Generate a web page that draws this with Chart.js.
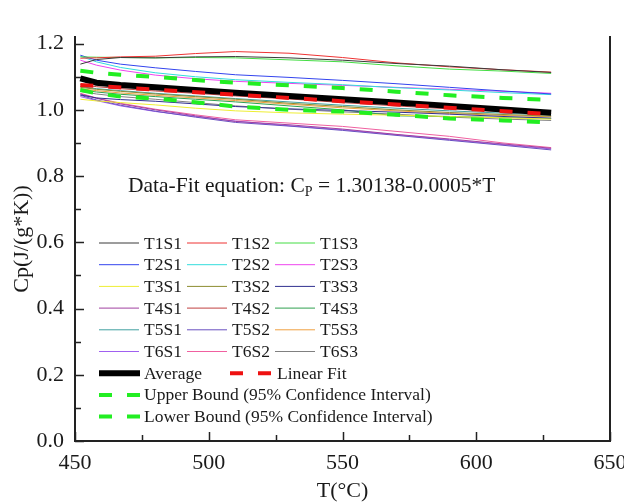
<!DOCTYPE html>
<html>
<head>
<meta charset="utf-8">
<script src="https://cdn.jsdelivr.net/npm/chart.js@4.4.1/dist/chart.umd.min.js"></script>
<style>
  html, body { margin: 0; padding: 0; background: #fff; }
  #wrap { width: 624px; height: 504px; }
</style>
</head>
<body>
<div id="wrap"><canvas id="cpChart" width="624" height="504"></canvas></div>
<script>
// temperature grid (°C) shared by the sample curves and summary curves
const tempC = [452, 458, 467, 480, 495, 510, 530, 550, 570, 590, 610, 628];

// Cp (J/(g*K)) per sample
const cpT1S1 = [1.138, 1.152, 1.158, 1.157, 1.160, 1.161, 1.157, 1.150, 1.140, 1.132, 1.121, 1.113];
const cpT1S2 = [1.156, 1.157, 1.160, 1.162, 1.170, 1.176, 1.171, 1.158, 1.142, 1.130, 1.121, 1.114];
const cpT1S3 = [1.160, 1.159, 1.158, 1.157, 1.158, 1.157, 1.151, 1.145, 1.133, 1.123, 1.117, 1.110];
const cpT2S1 = [1.165, 1.150, 1.138, 1.127, 1.116, 1.106, 1.098, 1.089, 1.079, 1.068, 1.057, 1.048];
const cpT2S2 = [1.162, 1.145, 1.128, 1.112, 1.100, 1.091, 1.083, 1.076, 1.067, 1.060, 1.052, 1.046];
const cpT2S3 = [1.150, 1.135, 1.120, 1.105, 1.094, 1.086, 1.080, 1.074, 1.068, 1.062, 1.056, 1.050];
const cpT3S1 = [1.032, 1.027, 1.022, 1.015, 1.005, 0.997, 0.991, 0.987, 0.984, 0.980, 0.976, 0.972];
const cpT3S2 = [1.068, 1.062, 1.056, 1.048, 1.040, 1.032, 1.020, 1.010, 1.000, 0.992, 0.986, 0.981];
const cpT3S3 = [1.045, 1.036, 1.031, 1.026, 1.018, 1.010, 1.003, 0.998, 0.993, 0.987, 0.980, 0.975];
const cpT4S1 = [1.048, 1.035, 1.018, 1.000, 0.982, 0.965, 0.955, 0.942, 0.926, 0.912, 0.897, 0.884];
const cpT4S2 = [1.076, 1.070, 1.064, 1.057, 1.050, 1.042, 1.033, 1.022, 1.012, 1.003, 0.995, 0.989];
const cpT4S3 = [1.060, 1.054, 1.047, 1.040, 1.032, 1.024, 1.012, 1.000, 0.982, 0.980, 0.977, 0.974];
const cpT5S1 = [1.070, 1.064, 1.058, 1.050, 1.042, 1.034, 1.024, 1.014, 1.005, 0.997, 0.990, 0.984];
const cpT5S2 = [1.044, 1.030, 1.014, 0.996, 0.978, 0.962, 0.951, 0.938, 0.923, 0.908, 0.893, 0.879];
const cpT5S3 = [1.064, 1.058, 1.051, 1.044, 1.036, 1.028, 1.017, 1.006, 0.997, 0.989, 0.983, 0.979];
const cpT6S1 = [1.040, 1.028, 1.012, 0.995, 0.980, 0.966, 0.952, 0.940, 0.925, 0.910, 0.895, 0.882];
const cpT6S2 = [1.050, 1.036, 1.020, 1.002, 0.985, 0.970, 0.960, 0.950, 0.935, 0.920, 0.900, 0.886];
const cpT6S3 = [1.056, 1.048, 1.040, 1.032, 1.022, 1.012, 1.002, 0.994, 0.987, 0.978, 0.972, 0.968];

// summary curves
const cpAverage = [1.095, 1.082, 1.075, 1.068, 1.060, 1.052, 1.042, 1.032, 1.022, 1.012, 1.001, 0.991];
const cpUpper   = [1.118, 1.112, 1.106, 1.100, 1.090, 1.082, 1.074, 1.066, 1.055, 1.044, 1.036, 1.030];
const cpLower   = [1.060, 1.050, 1.040, 1.034, 1.023, 1.010, 1.000, 0.995, 0.985, 0.974, 0.968, 0.962];
const fitT  = [452, 628];
const fitCp = [1.075, 0.987];

const sampleNames = ['T1S1', 'T1S2', 'T1S3', 'T2S1', 'T2S2', 'T2S3', 'T3S1', 'T3S2', 'T3S3',
                     'T4S1', 'T4S2', 'T4S3', 'T5S1', 'T5S2', 'T5S3', 'T6S1', 'T6S2', 'T6S3'];
const sampleCp = [cpT1S1, cpT1S2, cpT1S3, cpT2S1, cpT2S2, cpT2S3, cpT3S1, cpT3S2, cpT3S3,
                  cpT4S1, cpT4S2, cpT4S3, cpT5S1, cpT5S2, cpT5S3, cpT6S1, cpT6S2, cpT6S3];
const sampleColors = ['#3a3a3a', '#ee3333', '#44dd44', '#3344ee', '#33dddd', '#ee44ee',
                      '#eeee33', '#8c8c30', '#303090', '#a040a0', '#c04040', '#30a050',
                      '#40a0a0', '#6a50c0', '#f0a040', '#a060f0', '#f060a0', '#808080'];

const xTicks = [450, 500, 550, 600, 650];
const yTicks = [0.0, 0.2, 0.4, 0.6, 0.8, 1.0, 1.2];

const serif = '"Liberation Serif", "DejaVu Serif", serif';

function toPoints(xs, ys) {
    return xs.map((x, i) => ({ x: x, y: ys[i] }));
}

const datasets = sampleNames.map((name, i) => ({
    label: name,
    data: toPoints(tempC, sampleCp[i]),
    borderColor: sampleColors[i],
    borderWidth: 1,
    order: 10
}));

datasets.push({
    label: 'Average',
    data: toPoints(tempC, cpAverage),
    borderColor: '#000000',
    borderWidth: 6,
    order: 3
});
datasets.push({
    label: 'Linear Fit',
    data: toPoints(fitT, fitCp),
    borderColor: '#ee1111',
    borderWidth: 4,
    borderDash: [13, 15],
    order: 1
});
datasets.push({
    label: 'Upper Bound (95% Confidence Interval)',
    data: toPoints(tempC, cpUpper),
    borderColor: '#22ee22',
    borderWidth: 4,
    borderDash: [13, 15],
    order: 2
});
datasets.push({
    label: 'Lower Bound (95% Confidence Interval)',
    data: toPoints(tempC, cpLower),
    borderColor: '#22ee22',
    borderWidth: 4,
    borderDash: [13, 15],
    order: 2
});

// inward tick marks on the bottom and left axes
const inwardTicks = {
    id: 'inwardTicks',
    afterDraw(chart) {
        const ctx = chart.ctx;
        const xs = chart.scales.x, ys = chart.scales.y;
        const area = chart.chartArea;
        ctx.save();
        ctx.strokeStyle = '#222';
        ctx.lineWidth = 1.5;
        ctx.beginPath();
        for (let v = 450; v <= 650; v += 25) {
            const px = Math.round(xs.getPixelForValue(v)) + 0.5;
            const len = v % 50 === 0 ? 9 : 6;
            ctx.moveTo(px, area.bottom);
            ctx.lineTo(px, area.bottom - len);
        }
        for (let k = 0; k <= 12; k++) {
            const py = Math.round(ys.getPixelForValue(k / 10)) + 0.5;
            const len = k % 2 === 0 ? 9 : 6;
            ctx.moveTo(area.left, py);
            ctx.lineTo(area.left + len, py);
        }
        ctx.stroke();
        ctx.restore();
    }
};

// legend block inside the plot plus the fit equation
const insideLegend = {
    id: 'insideLegend',
    afterDraw(chart) {
        const ctx = chart.ctx;
        const ds = chart.data.datasets;
        const cols = [99, 187, 275];
        const row0 = 243, rowH = 21.7;
        ctx.save();
        ctx.font = '17.5px ' + serif;
        ctx.fillStyle = '#1a1a1a';
        ctx.textBaseline = 'middle';

        function sample(d, x0, x1, y) {
            ctx.save();
            ctx.strokeStyle = d.borderColor;
            ctx.lineWidth = d.borderWidth;
            ctx.setLineDash(d.borderDash || []);
            ctx.beginPath();
            ctx.moveTo(x0, y);
            ctx.lineTo(x1, y);
            ctx.stroke();
            ctx.restore();
        }

        for (let i = 0; i < 18; i++) {
            const c = i % 3, r = Math.floor(i / 3);
            const y = row0 + r * rowH;
            sample(ds[i], cols[c], cols[c] + 40, y);
            ctx.fillText(ds[i].label, cols[c] + 45, y + 1);
        }
        let y = row0 + 6 * rowH;
        sample(ds[18], 99, 140, y);
        ctx.fillText(ds[18].label, 144, y + 1);
        sample(ds[19], 230, 272, y);
        ctx.fillText(ds[19].label, 277, y + 1);
        y += rowH;
        sample(ds[20], 99, 140, y);
        ctx.fillText(ds[20].label, 144, y + 1);
        y += rowH;
        sample(ds[21], 99, 140, y);
        ctx.fillText(ds[21].label, 144, y + 1);

        // equation
        ctx.font = '21.5px ' + serif;
        ctx.textBaseline = 'alphabetic';
        let x = 128;
        const base = 192;
        const part1 = 'Data-Fit equation: C';
        ctx.fillText(part1, x, base);
        x += ctx.measureText(part1).width;
        ctx.font = '14px ' + serif;
        ctx.fillText('P', x, base + 4);
        x += ctx.measureText('P').width;
        ctx.font = '21.5px ' + serif;
        ctx.fillText(' = 1.30138-0.0005*T', x, base);
        ctx.restore();
    }
};

new Chart(document.getElementById('cpChart'), {
    type: 'line',
    data: { datasets: datasets },
    plugins: [inwardTicks, insideLegend],
    options: {
        responsive: false,
        animation: false,
        layout: { padding: { top: 37, left: 0, right: 0, bottom: 0 } },
        elements: {
            point: { radius: 0 },
            line: { tension: 0 }
        },
        plugins: {
            legend: { display: false },
            tooltip: { enabled: false }
        },
        scales: {
            x: {
                type: 'linear',
                min: 450,
                max: 650,
                afterBuildTicks: (scale) => { scale.ticks = xTicks.map(v => ({ value: v })); },
                afterFit: (scale) => {
                    scale.height = 63;
                    scale.paddingLeft = 0;
                    scale.paddingRight = 0;
                },
                grid: { display: false, drawTicks: false },
                border: { display: true, color: '#222', width: 2 },
                ticks: {
                    padding: 9,
                    color: '#1a1a1a',
                    font: { family: serif, size: 22 },
                    maxRotation: 0
                },
                title: {
                    display: true,
                    text: 'T(°C)',
                    color: '#1a1a1a',
                    font: { family: serif, size: 22 },
                    padding: { top: 0, bottom: 0 }
                }
            },
            y: {
                type: 'linear',
                min: 0,
                max: 1.22,
                afterBuildTicks: (scale) => { scale.ticks = yTicks.map(v => ({ value: v })); },
                afterFit: (scale) => {
                    scale.width = 75;
                    scale.paddingTop = 0;
                    scale.paddingBottom = 0;
                },
                grid: { display: false, drawTicks: false },
                border: { display: true, color: '#222', width: 2 },
                ticks: {
                    padding: 11,
                    color: '#1a1a1a',
                    font: { family: serif, size: 22 },
                    callback: (v) => Number(v).toFixed(1)
                },
                title: {
                    display: true,
                    text: 'Cp(J/(g*K))',
                    color: '#1a1a1a',
                    font: { family: serif, size: 22 },
                    padding: { top: 9, bottom: 0 }
                }
            },
            y2: {
                type: 'linear',
                position: 'right',
                min: 0,
                max: 1.22,
                afterFit: (scale) => { scale.width = 14; },
                grid: { display: false, drawTicks: false },
                border: { display: true, color: '#222', width: 2 },
                ticks: { display: false }
            }
        }
    }
});
</script>
</body>
</html>
